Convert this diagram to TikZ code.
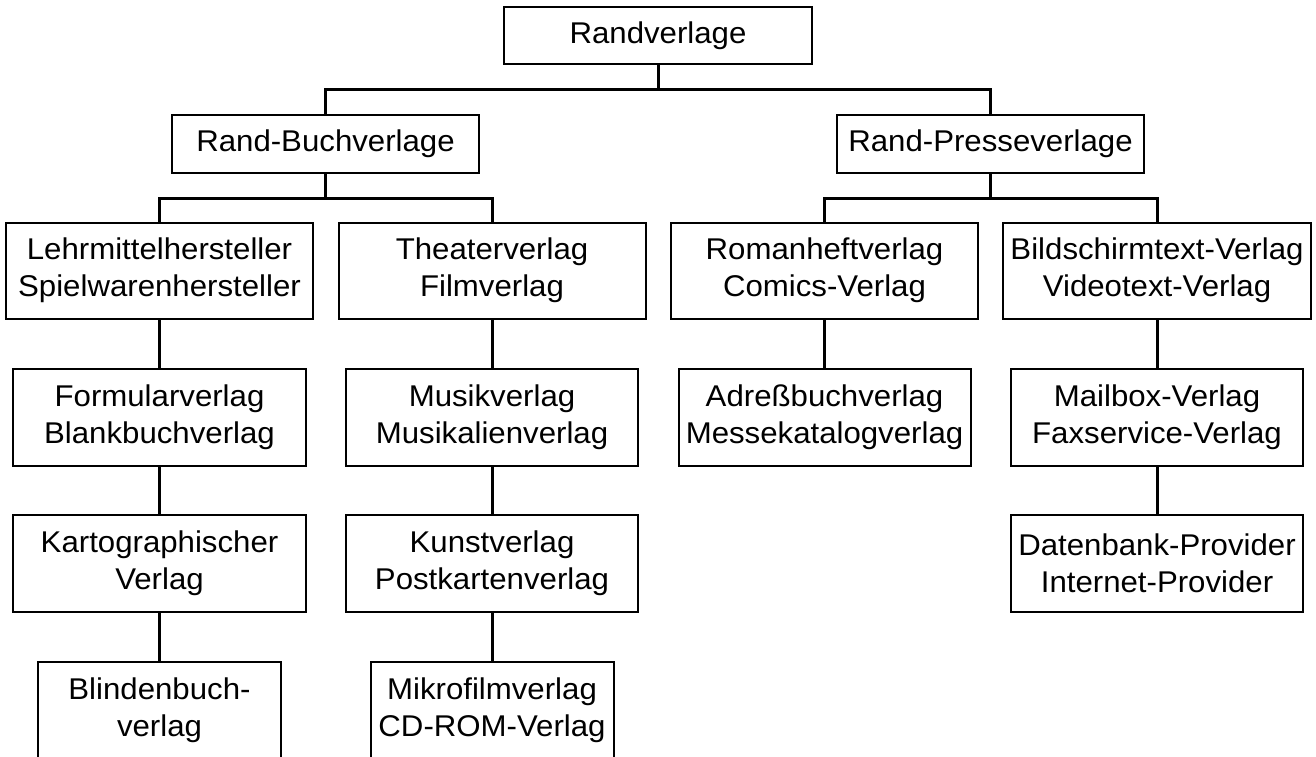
\documentclass[tikz,border=0pt]{standalone}
\usepackage{fontspec}
\setmainfont[FakeStretch=1.04]{Liberation Sans}
\begin{document}
\begin{tikzpicture}[x=1pt,y=-1pt,
  box/.style={draw=black,line width=2pt,fill=white,rectangle,align=center,inner sep=0pt,
    font=\fontsize{30}{37}\selectfont},
  conn/.style={draw=black,line width=3pt}]
\useasboundingbox[fill=white] (0,0) rectangle (1316,756);
\begin{scope}
\clip (0,0) rectangle (1316,756);
% level 1
\node[box,minimum width=308pt,minimum height=57pt] (rv) at (658,35.5) {Randverlage};
% level 2
\node[box,minimum width=307pt,minimum height=58pt] (rb) at (325.5,144) {Rand-Buchverlage};
\node[box,minimum width=307pt,minimum height=58pt] (rp) at (990.5,144) {Rand-Presseverlage};
% level 3
\node[box,minimum width=307pt,minimum height=96pt] (lehr) at (159.5,270.5) {Lehrmittelhersteller\\Spielwarenhersteller};
\node[box,minimum width=307pt,minimum height=96pt] (thea) at (492,270.5) {Theaterverlag\\Filmverlag};
\node[box,minimum width=307pt,minimum height=96pt] (roman) at (824.5,270.5) {Romanheftverlag\\Comics-Verlag};
\node[box,minimum width=308pt,minimum height=96pt] (bild) at (1157,270.5) {Bildschirmtext-Verlag\\Videotext-Verlag};
% level 4
\node[box,minimum width=293pt,minimum height=97pt] (form) at (159.5,417.5) {Formularverlag\\Blankbuchverlag};
\node[box,minimum width=292pt,minimum height=97pt] (musik) at (492,417.5) {Musikverlag\\Musikalienverlag};
\node[box,minimum width=292pt,minimum height=97pt] (adr) at (824.5,417.5) {Adreßbuchverlag\\Messekatalogverlag};
\node[box,minimum width=292pt,minimum height=97pt] (mail) at (1157,417.5) {Mailbox-Verlag\\Faxservice-Verlag};
% level 5
\node[box,minimum width=293pt,minimum height=97pt] (karto) at (159.5,563.5) {Kartographischer\\Verlag};
\node[box,minimum width=292pt,minimum height=97pt] (kunst) at (492,563.5) {Kunstverlag\\Postkartenverlag};
\node[box,minimum width=292pt,minimum height=97pt] (daten) at (1157,563.5) {Datenbank-Provider\\Internet-Provider};
% level 6
\node[box,minimum width=243pt,minimum height=96pt] (blind) at (159.5,710) {Blindenbuch-\\verlag};
\node[box,minimum width=243pt,minimum height=96pt] (mikro) at (492,710) {Mikrofilmverlag\\CD-ROM-Verlag};
% junctions
\coordinate (j1) at (658,89);
\coordinate (j2) at (325.5,198);
\coordinate (j3) at (990.5,198);
% connectors
\draw[conn] (rv.south) -- (j1);
\draw[conn] (rb.north) |- (j1) -| (rp.north);
\draw[conn] (rb.south) -- (j2);
\draw[conn] (lehr.north) |- (j2) -| (thea.north);
\draw[conn] (rp.south) -- (j3);
\draw[conn] (roman.north) |- (j3) -| (bild.north);
\draw[conn] (lehr.south) -- (form.north);
\draw[conn] (form.south) -- (karto.north);
\draw[conn] (karto.south) -- (blind.north);
\draw[conn] (thea.south) -- (musik.north);
\draw[conn] (musik.south) -- (kunst.north);
\draw[conn] (kunst.south) -- (mikro.north);
\draw[conn] (roman.south) -- (adr.north);
\draw[conn] (bild.south) -- (mail.north);
\draw[conn] (mail.south) -- (daten.north);
\end{scope}
\end{tikzpicture}
\end{document}
